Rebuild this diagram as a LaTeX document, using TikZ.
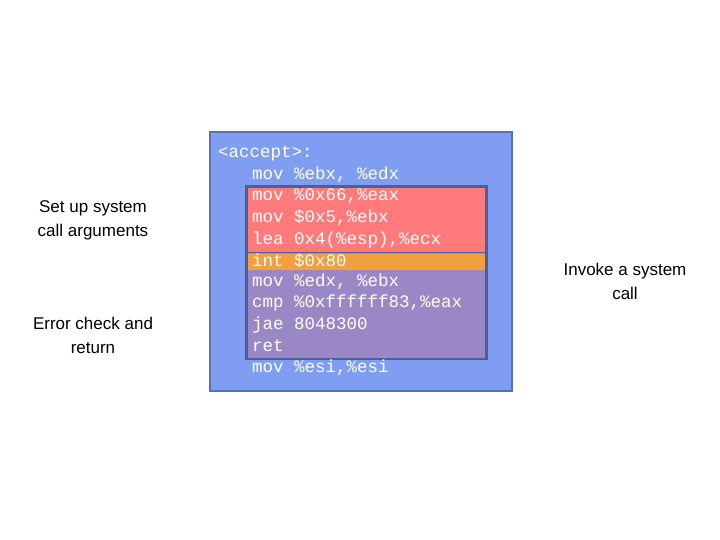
\documentclass[tikz,border=0pt]{standalone}
\usepackage{fontspec}
\setmainfont{Liberation Sans}
\newfontfamily\codefont{Liberation Mono}
\definecolor{bluefill}{HTML}{7F9EF2}
\definecolor{blueline}{HTML}{5A70B4}
\definecolor{redfill}{HTML}{FF7B7B}
\definecolor{orangefill}{HTML}{F0A040}
\definecolor{purplefill}{HTML}{9A88C6}
\definecolor{frameline}{HTML}{4E5E98}
\begin{document}
\begin{tikzpicture}[x=1pt,y=-1pt,
  code/.style={anchor=west,inner sep=0pt,text=white,font=\codefont\fontsize{17.5}{20}\selectfont},
  lbl/.style={align=center,font=\fontsize{17}{24}\selectfont}]
\useasboundingbox (0,0) rectangle (720,540);
\node[draw=blueline,line width=2pt,fill=bluefill,minimum width=302,minimum height=259,inner sep=0pt] (outer) at (360.5,261.5) {};
\node[fill=redfill,minimum width=240,minimum height=66,inner sep=0pt] (red) at (366.5,219.5) {};
\node[fill=orangefill,minimum width=240,minimum height=16,inner sep=0pt] (orange) at (366.5,261.5) {};
\node[fill=purplefill,minimum width=240,minimum height=89,inner sep=0pt] (purple) at (366.5,314.5) {};
\draw[frameline,line width=2.5pt] (red.north west) rectangle (purple.south east);
\draw[frameline,line width=1.5pt] (red.south west) -- (red.south east);
\foreach \t [count=\i from 0] in {{<accept>:}}{}
\node[code] (l0) at (218,153) {<accept>:};
\node[code] (l1) at (252,175) {mov \%ebx, \%edx};
\node[code] (l2) at (252,196) {mov \%0x66,\%eax};
\node[code] (l3) at (252,218) {mov \$0x5,\%ebx};
\node[code] (l4) at (252,240) {lea 0x4(\%esp),\%ecx};
\node[code] (l5) at (252,261) {int \$0x80};
\node[code] (l6) at (252,282) {mov \%edx, \%ebx};
\node[code] (l7) at (252,303) {cmp \%0xffffff83,\%eax};
\node[code] (l8) at (252,325) {jae 8048300};
\node[code] (l9) at (252,346) {ret};
\node[code] (l10) at (252,368) {mov \%esi,\%esi};
\node[lbl] (a) at (93,220) {Set up system\\call arguments};
\node[lbl] (b) at (93,335) {Error check and\\return};
\node[lbl] (c) at (625,281) {Invoke a system\\call};
\end{tikzpicture}
\end{document}
